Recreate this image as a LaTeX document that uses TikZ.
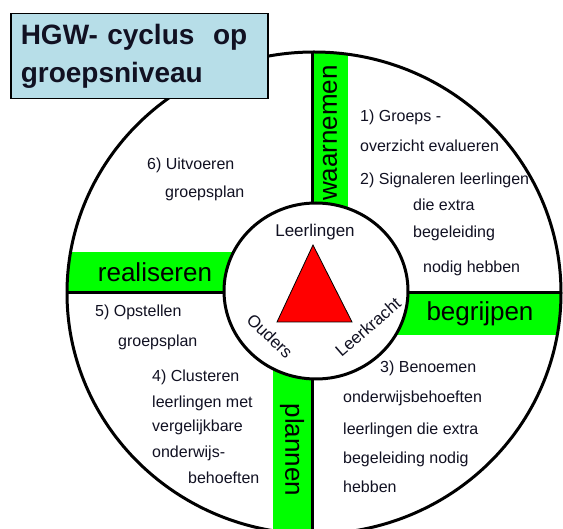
\documentclass[tikz,border=0pt]{standalone}
\usepackage{fontspec}
\setmainfont{Liberation Sans}
\usetikzlibrary{positioning}
\definecolor{titlefill}{HTML}{B7DEE8}
\definecolor{phasegreen}{HTML}{00FF00}
\definecolor{trired}{HTML}{FF0000}
\definecolor{ink}{HTML}{111122}
\tikzset{
  titlebox/.style = {rectangle, draw=black, line width=1.5pt, fill=titlefill,
                     font=\bfseries\fontsize{28}{38}\selectfont, text=ink,
                     align=left, text width=237pt, inner xsep=10pt,
                     minimum height=85pt, anchor=north west},
  phase/.style    = {font=\fontsize{26}{26}\selectfont, text=black, inner sep=0pt},
  note/.style     = {font=\fontsize{16}{16}\selectfont, text=ink,
                     anchor=base west, inner sep=0pt},
  actor/.style    = {font=\fontsize{17}{17}\selectfont, text=ink, inner sep=0pt},
  ring/.style     = {line width=3pt, draw=black},
}
\begin{document}
\begin{tikzpicture}[x=1pt, y=-1pt]
  \useasboundingbox (0,0) rectangle (563,529);
  \clip (0,0) rectangle (563,529);

  % outer ring and the four phase bars
  \fill[white] (314,293) ellipse [x radius=247pt, y radius=241pt];
  \begin{scope}
    \clip (314,293) ellipse [x radius=247pt, y radius=241pt];
    \fill[phasegreen] (312,0) rectangle (348,293);
    \fill[phasegreen] (0,252) rectangle (314,293);
    \fill[phasegreen] (314,293) rectangle (563,335);
    \fill[phasegreen] (273,293) rectangle (312,529);
    \draw[ring] (312,0) -- (312,529);
    \draw[ring] (0,293) -- (563,293);
  \end{scope}
  \draw[ring] (314,293) ellipse [x radius=247pt, y radius=241pt];

  % centre
  \draw[ring, fill=white] (316,291) ellipse [x radius=92pt, y radius=88pt];
  \draw[fill=trired, line width=0.8pt] (313,245) -- (352,322) -- (277,322) -- cycle;
  \node[actor] (pupils) at (315,232) {Leerlingen};
  \node[actor, rotate=-44] (parents) at (270,336) {Ouders};
  \node[actor, rotate=41] (teacher) at (368,327) {Leerkracht};

  \node[phase, rotate=90] (observe) at (330,133) {waarnemen};
  \node[phase] (understand) at (480,314) {begrijpen};
  \node[phase, rotate=-90] (plan) at (292,450) {plannen};
  \node[phase] (realise) at (155,272) {realiseren};

  % steps per quadrant
  \node[note] (s1a) at (360,122) {1) Groeps -};
  \node[note] (s1b) at (360,152) {overzicht evalueren};
  \node[note] (s2a) at (360,185) {2) Signaleren leerlingen};
  \node[note] (s2b) at (413,211) {die extra};
  \node[note] (s2c) at (413,238) {begeleiding};
  \node[note] (s2d) at (423,273) {nodig hebben};

  \node[note] (s3a) at (380,373) {3) Benoemen};
  \node[note] (s3b) at (343,403) {onderwijsbehoeften};
  \node[note] (s3c) at (343,435) {leerlingen die extra};
  \node[note] (s3d) at (343,464) {begeleiding nodig};
  \node[note] (s3e) at (343,493) {hebben};

  \node[note] (s4a) at (152,382) {4) Clusteren};
  \node[note] (s4b) at (152,408) {leerlingen met};
  \node[note] (s4c) at (152,432) {vergelijkbare};
  \node[note] (s4d) at (152,458) {onderwijs-};
  \node[note] (s4e) at (188,484) {behoeften};

  \node[note] (s5a) at (95,317) {5) Opstellen};
  \node[note] (s5b) at (118,347) {groepsplan};

  \node[note] (s6a) at (147,170) {6) Uitvoeren};
  \node[note] (s6b) at (165,198) {groepsplan};

  \node[titlebox] (title) at (10,13) {HGW- cyclus\ \ op\\groepsniveau};
\end{tikzpicture}
\end{document}
